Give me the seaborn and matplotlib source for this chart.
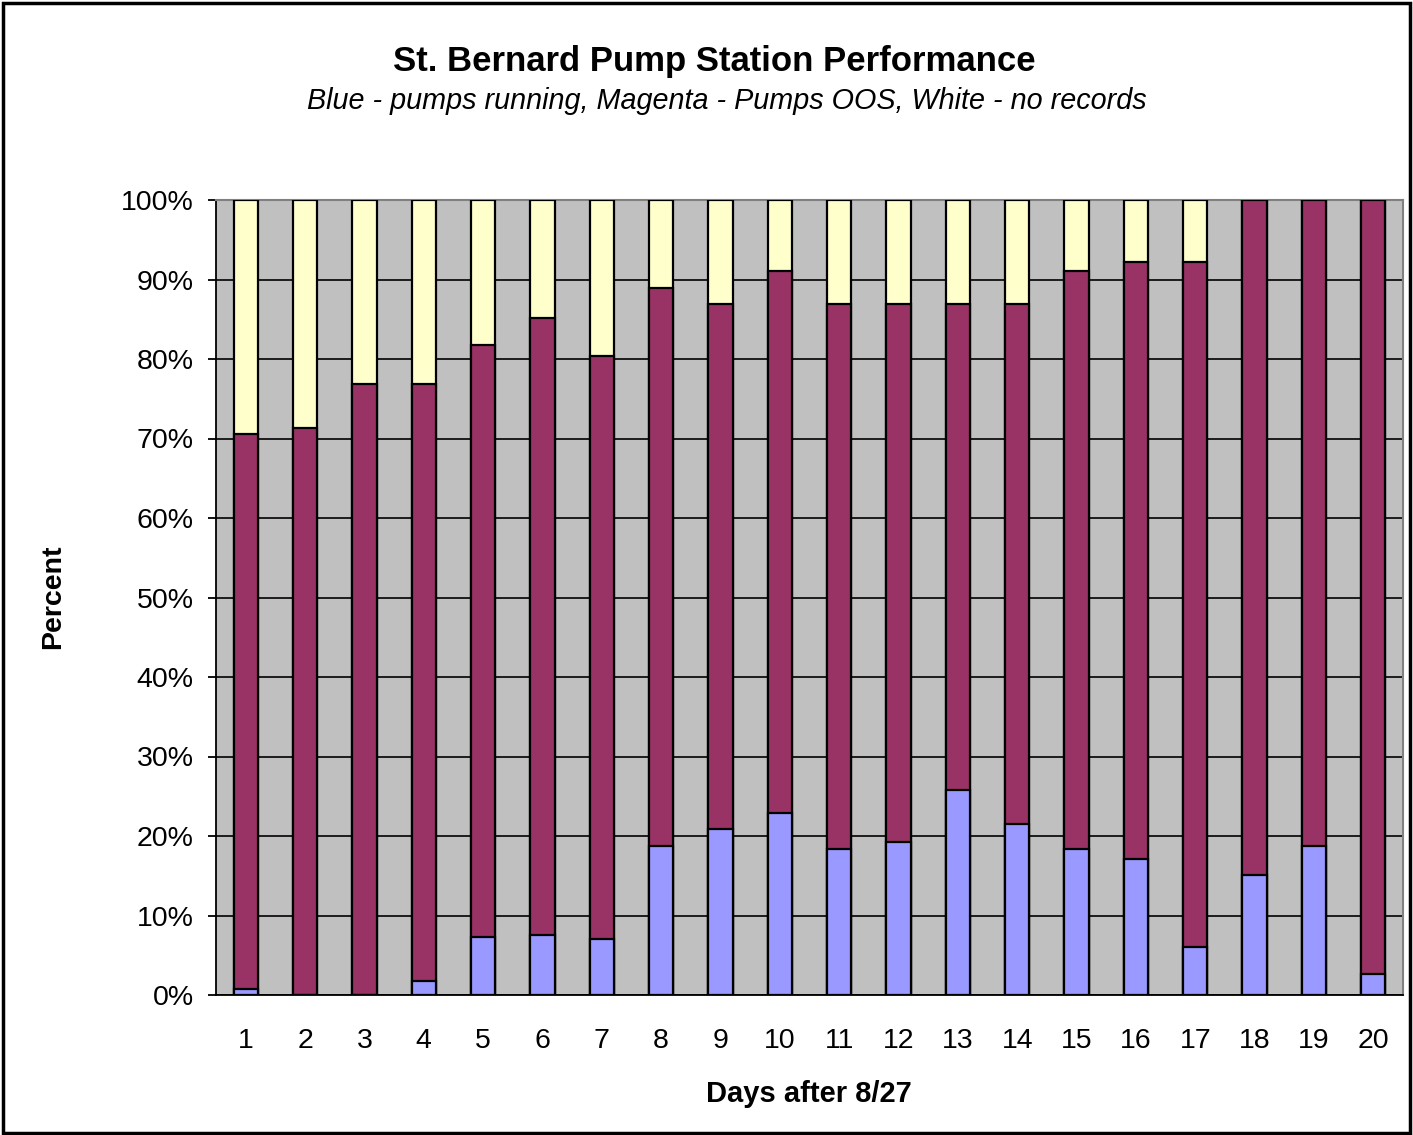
import numpy as np
import matplotlib
matplotlib.use("Agg")
import matplotlib.pyplot as plt
import seaborn as sns
from matplotlib.patches import Rectangle
from matplotlib.ticker import FixedLocator, PercentFormatter

# Data (percent of the day)
days = [str(d) for d in range(1, 21)]
running = [0.8, 0.0, 0.0, 1.7, 7.3, 7.5, 7.1, 18.7, 20.9, 22.9,
           18.4, 19.3, 25.8, 21.5, 18.4, 17.1, 6.0, 15.1, 18.7, 2.6]
out_of_service = [69.8, 71.3, 76.8, 75.1, 74.4, 77.6, 73.3, 70.2, 66.0, 68.2,
                  68.5, 67.6, 61.1, 65.4, 72.7, 75.1, 86.2, 84.9, 81.3, 97.4]
# white/yellow part is the rest, "no records"
no_records = [100 - r - o for r, o in zip(running, out_of_service)]

BLUE = "#9999FF"
MAGENTA = "#993366"
YELLOW = "#FFFFCC"
BG = "#C0C0C0"

sns.set_style("white")
plt.rcParams['font.family'] = ['Liberation Sans', 'DejaVu Sans']
plt.rcParams['text.color'] = 'black'
plt.rcParams['xtick.color'] = 'black'
plt.rcParams['ytick.color'] = 'black'

fig = plt.figure(figsize=(14.13, 11.35), dpi=100)
ax = fig.add_axes([216 / 1413, 1 - 995 / 1135, (1403 - 216) / 1413, (995 - 200) / 1135])
ax.set_facecolor(BG)

# stacked bars: draw cumulative layers from the top down
top_total = [r + o + n for r, o, n in zip(running, out_of_service, no_records)]
top_oos = [r + o for r, o in zip(running, out_of_service)]
bar_kw = dict(width=0.41, edgecolor="black", linewidth=1.6, saturation=1, zorder=3)
sns.barplot(x=days, y=top_total, color=YELLOW, ax=ax, **bar_kw)
sns.barplot(x=days, y=top_oos, color=MAGENTA, ax=ax, **bar_kw)
sns.barplot(x=days, y=running, color=BLUE, ax=ax, **bar_kw)

ax.set_ylim(0, 100)
ax.set_xlim(-0.5, len(days) - 0.5)
ax.yaxis.set_major_locator(FixedLocator(np.arange(0, 101, 10)))
ax.yaxis.set_major_formatter(PercentFormatter(decimals=0))
ax.grid(axis="y", color="black", linewidth=1.2, zorder=0)
ax.set_axisbelow(True)

# x ticks sit between the categories
ax.xaxis.set_minor_locator(FixedLocator(np.arange(-0.5, len(days), 1.0)))
ax.tick_params(axis="x", which="major", length=0, pad=24, labelsize=20.5)
ax.tick_params(axis="x", which="minor", length=6.5, width=1.3, color="black", direction="out")
ax.tick_params(axis="y", which="major", length=6, width=1.3, color="black",
               direction="out", pad=10, labelsize=20.5, left=True)

for side in ["top", "right"]:
    ax.spines[side].set_color("#808080")
    ax.spines[side].set_linewidth(1.5)
ax.spines["left"].set_color("black")
ax.spines["bottom"].set_color("black")
ax.spines["left"].set_linewidth(1.3)
ax.spines["bottom"].set_linewidth(1.3)

ax.set_xlabel("")
ax.set_ylabel("")
fig.text(809 / 1413, 1 - 1094 / 1135, "Days after 8/27", ha="center", va="center",
         fontsize=21, fontweight="bold")
fig.text(53 / 1413, 1 - 597 / 1135, "Percent", rotation=90, ha="center", va="center",
         fontsize=20.5, fontweight="bold")

fig.text(714 / 1413, 1 - 62 / 1135, "St. Bernard Pump Station Performance",
         ha="center", va="center", fontsize=25, fontweight="bold")
fig.text(727 / 1413, 1 - 101 / 1135,
         "Blue - pumps running, Magenta - Pumps OOS, White - no records",
         ha="center", va="center", fontsize=20.7, style="italic")

# outer chart border
fig.patches.append(Rectangle((0.002, 0.002), 0.996, 0.995, transform=fig.transFigure,
                             fill=False, edgecolor="black", linewidth=2.5))

fig.savefig("out.png", dpi=100)
